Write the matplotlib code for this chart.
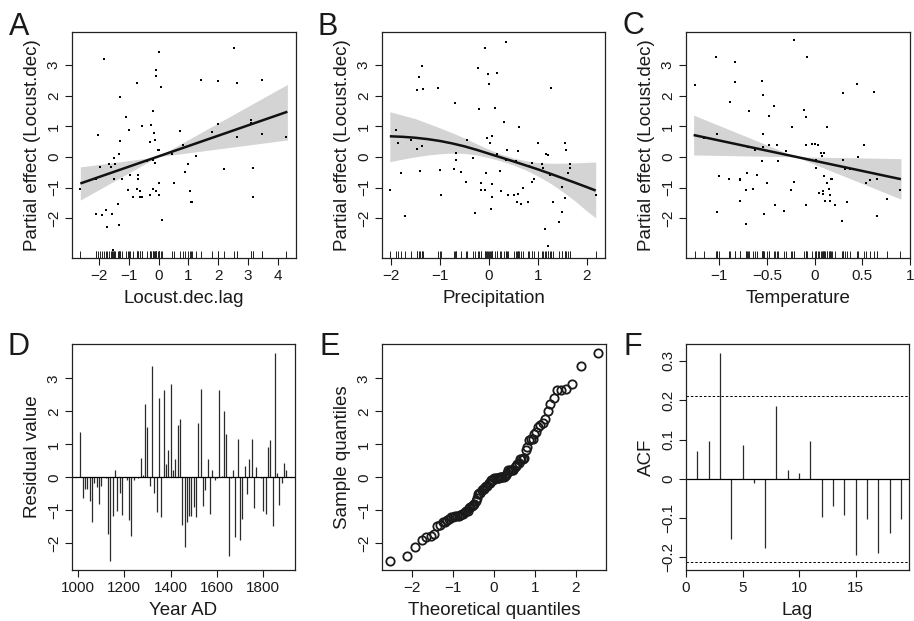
import statistics
import numpy as np
import matplotlib
matplotlib.use("Agg")
import matplotlib.pyplot as plt

plt.rcParams['font.family'] = ['Liberation Sans', 'DejaVu Sans']

# ---- panel A: Locust.dec.lag partial effect
a_x = [-2.64, -2.12, -2.06, -2.10, -1.97, -1.92, -1.85, -1.76, -1.75, -1.69,
       -1.62, -1.58, -1.56, -1.52, -1.52, -1.46, -1.38, -1.35, -1.33, -1.31,
       -1.29, -1.25, -1.11, -1.04, -0.99, -0.98, -0.88, -0.74, -0.73, -0.71,
       -0.69, -0.64, -0.62, -0.57, -0.55, -0.39, -0.31, -0.30, -0.26, -0.21,
       -0.21, -0.18, -0.17, -0.12, -0.11, -0.10, -0.08, -0.08, -0.01, 0.01,
       0.02, 0.02, 0.02, 0.09, 0.10, 0.45, 0.51, 0.73, 0.80, 0.90,
       1.00, 1.04, 1.08, 1.13, 1.24, 1.42, 1.80, 1.98, 2.01, 2.18,
       2.52, 2.62, 2.62, 3.09, 3.12, 3.16, 3.16, 3.46, 3.46, 4.30,
       -1.54]
a_y = [-1.03, -1.84, 0.71, -0.73, -0.31, -1.88, 3.20, -1.71, -2.27, -0.22,
       -0.31, -1.84, -1.84, -0.04, -0.73, -0.24, -1.52, -2.20, 0.11, 0.51,
       1.97, -0.73, 1.30, -1.06, 0.87, -0.57, -1.29, 2.41, -1.04, -0.70,
       -0.57, -1.09, -1.31, -1.29, 1.03, -0.13, 0.48, -1.25, 1.06, 1.52,
       -0.08, -1.04, 0.80, 0.55, -0.19, 2.84, 2.64, -1.09, 0.24, 3.42,
       0.24, -0.85, -1.25, 2.28, -2.04, 0.11, -0.83, 0.84, 0.38, -0.50,
       -0.24, -1.09, -1.45, -1.48, 0.05, 2.51, 0.83, 1.09, 2.48, -0.40,
       3.56, 2.41, 0.64, 1.10, 1.20, -0.34, -1.29, 2.51, 0.74, 0.64,
       -3.02]
a_fit_x = [-2.64, 4.33]
a_fit_y = [-0.86, 1.48]
a_band_x = [-2.64, -0.04, 4.33]
a_band_hi = [-0.32, 0.01, 2.37]
a_band_lo = [-1.40, 0.01, 0.56]

# ---- panel B: Precipitation partial effect
b_x = [-2.03, -1.91, -1.87, -1.81, -1.71, -1.60, -1.48, -1.48, -1.44, -1.41,
       -1.38, -1.38, -1.36, -1.04, -1.00, -0.99, -0.69, -0.71, -0.67, -0.67,
       -0.57, -0.47, -0.45, -0.33, -0.29, -0.22, -0.20, -0.16, -0.16, -0.08,
       -0.08, -0.06, -0.04, -0.02, 0.00, 0.02, 0.04, 0.06, 0.06, 0.06,
       0.12, 0.16, 0.16, 0.22, 0.24, 0.31, 0.35, 0.35, 0.37, 0.39,
       0.51, 0.54, 0.57, 0.59, 0.60, 0.61, 0.65, 0.69, 0.79, 0.81,
       0.87, 0.88, 0.92, 1.00, 1.09, 1.10, 1.14, 1.16, 1.21, 1.21,
       1.25, 1.26, 1.31, 1.43, 1.49, 1.50, 1.55, 1.56, 1.57, 1.61,
       1.65, 1.65, 2.18]
b_y = [-1.07, 0.87, 0.47, -0.51, -1.91, 0.55, 2.18, 0.25, 2.61, -0.44,
       2.96, 0.35, 2.21, 2.27, -0.41, -1.25, 1.78, -0.40, 0.14, -0.08,
       -0.47, -0.80, 0.55, -0.04, -1.81, 2.92, 1.56, -0.86, -1.07, 3.56,
       -1.07, -0.53, 0.61, 2.72, 2.37, 0.47, -1.69, -0.89, 0.70, -1.30,
       1.61, 0.11, 2.74, -0.45, -1.12, 1.16, 3.77, -0.08, 0.22, -1.22,
       -1.22, -0.13, -1.47, -1.19, 0.19, 0.97, -1.52, -1.00, -1.45, -0.29,
       -0.80, -0.19, -0.73, 0.45, -0.21, -0.36, -2.33, 0.09, 0.07, -2.89,
       -0.57, 2.27, -1.48, -2.10, -1.78, -0.97, -1.32, 0.47, 0.22, -0.53,
       -0.37, -0.21, -1.25]
b_curve_x = [-2.03, -1.75, -1.5, -1.25, -1.0, -0.75, -0.5, -0.25, 0.0,
             0.25, 0.5, 0.75, 1.0, 1.25, 1.5, 1.75, 2.0, 2.18]
b_fit_y = [0.68, 0.66, 0.63, 0.585, 0.525, 0.445, 0.35, 0.235, 0.11,
           -0.015, -0.14, -0.27, -0.40, -0.54, -0.685, -0.83, -0.98, -1.09]
b_band_hi = [1.48, 1.36, 1.25, 1.10, 0.95, 0.79, 0.62, 0.43, 0.25,
             0.09, -0.03, -0.12, -0.18, -0.20, -0.20, -0.19, -0.17, -0.16]
b_band_lo = [-0.15, -0.06, 0.01, 0.07, 0.11, 0.13, 0.12, 0.07, -0.02,
             -0.13, -0.26, -0.42, -0.62, -0.85, -1.12, -1.42, -1.76, -1.98]

# ---- panel C: Temperature partial effect
c_x = [-1.26, -1.16, -1.04, -1.03, -1.02, -1.00, -0.90, -0.89, -0.84, -0.84,
       -0.78, -0.78, -0.78, -0.72, -0.72, -0.71, -0.70, -0.69, -0.65, -0.63,
       -0.60, -0.55, -0.55, -0.54, -0.54, -0.54, -0.53, -0.50, -0.48, -0.48,
       -0.43, -0.42, -0.40, -0.38, -0.32, -0.30, -0.25, -0.24, -0.22, -0.22,
       -0.11, -0.09, -0.09, -0.09, -0.08, -0.03, 0.00, 0.01, 0.01, 0.03,
       0.05, 0.07, 0.08, 0.09, 0.09, 0.10, 0.10, 0.11, 0.13, 0.13,
       0.15, 0.16, 0.16, 0.17, 0.18, 0.21, 0.29, 0.30, 0.30, 0.32,
       0.34, 0.37, 0.44, 0.45, 0.52, 0.54, 0.58, 0.62, 0.65, 0.65,
       0.76, 0.90]
c_y = [2.34, 0.62, 3.26, 0.77, -1.80, -0.63, -0.70, 1.79, 3.10, 2.44,
       -0.73, -0.76, -1.42, -2.17, -1.06, -0.53, 0.33, 1.49, -1.03, 0.22,
       -0.57, 2.49, -0.14, 2.02, 0.77, 0.32, -1.84, -0.86, 0.40, 1.33,
       1.68, -1.55, 0.38, -0.14, -1.77, 0.19, -1.07, 0.97, -0.80, 3.82,
       1.53, 1.30, 0.38, -1.55, 3.28, 0.44, 0.44, -0.11, -0.37, 0.41,
       -1.16, 0.15, 0.05, -1.09, -1.19, 0.15, -0.63, -1.44, 0.97, -0.83,
       -1.03, -1.25, -1.42, -0.70, -0.73, -1.55, -2.07, 2.08, -0.11, -0.40,
       -1.45, -0.40, 2.40, -0.01, 0.38, -0.83, -0.76, 2.12, -0.73, -1.91,
       -1.35, -1.06]
c_fit_x = [-1.27, 0.905]
c_fit_y = [0.72, -0.72]
c_band_x = [-1.27, -0.197, 0.905]
c_band_hi = [1.37, 0.011, -0.05]
c_band_lo = [0.07, 0.011, -1.37]

# ---- panel D: residuals by decade
years = list(range(1010, 1901, 10))
resid = [1.36, -0.62, -0.35, -0.35, -0.73, -1.35, -0.17, -0.28, -0.82, -0.26,
         0.02, -0.02, -1.73, -2.55, -1.16, 0.23, -1.02, -0.49, -1.13, 0.01,
         -0.07, -1.29, -1.77, -0.07, 0.02, -0.02, 0.57, 0.06, 2.22, 1.51,
         -0.27, 3.38, -0.48, -1.05, 2.40, -1.19, 2.65, 0.39, 0.84, 2.83,
         0.21, 0.55, 1.57, 1.77, -1.44, -2.10, -1.36, -1.17, -1.17, -0.91,
         -1.20, 1.64, 2.69, -0.87, -0.40, 0.54, -1.10, 0.21, -0.07, -0.02,
         2.65, 0.03, 2.01, 1.30, -2.38, -0.03, 0.21, -1.82, 1.16, -1.89,
         -1.26, 0.33, -0.50, 0.54, 1.17, -0.93, 0.32, 0.02, -0.01, -1.02,
         -1.11, 0.93, 1.12, -1.49, 3.78, 0.13, -0.83, -0.18, 0.44, 0.23]

# ---- panel F: ACF of residuals
lags = list(range(1, 20))
acf = [0.071, 0.097, 0.321, -0.153, 0.085, -0.011, -0.176, 0.184, 0.022, 0.016,
       0.097, -0.096, -0.070, -0.092, -0.193, -0.103, -0.188, -0.138, -0.103]
acf_ci = 0.211

W, H = 914, 621
fig = plt.figure(figsize=(W / 100, H / 100), dpi=100)

TXT = '#1a1a1a'
BAND = '#d4d4d4'


def px_axes(l, t, r, b):
    return fig.add_axes([l / W, 1 - b / H, (r - l) / W, (b - t) / H])


def style(ax, xt, xl, yt, yl, xlabel, ylabel):
    ax.set_xticks(xt)
    ax.set_xticklabels(xl)
    ax.set_yticks(yt)
    ax.set_yticklabels(yl)
    ax.tick_params(length=5, width=0.8, pad=3, labelsize=11,
                   colors=TXT, direction='out')
    ax.tick_params(axis='y', labelrotation=90)
    for lab in ax.get_yticklabels():
        lab.set_va('center')
    for s in ax.spines.values():
        s.set_linewidth(0.9)
        s.set_color('#222222')
    ax.set_xlabel(xlabel, fontsize=13.5, color=TXT, labelpad=5)
    ax.set_ylabel(ylabel, fontsize=13.5, color=TXT, labelpad=4)


def m(v):
    s = ('%g' % v)
    return s.replace('-', '\u2212')


def letter(x, y, s):
    fig.text(x / W, 1 - y / H, s, fontsize=22, color=TXT, va='baseline', ha='left')


ylim_pe = (-3.29, 4.08)
pe_ticks = [-2, -1, 0, 1, 2, 3]


def gam_panel(ax, x, y, fx, fy, bx, bhi, blo, xlim, xt, xlabel):
    ax.fill_between(bx, blo, bhi, color=BAND, lw=0, zorder=1)
    ax.plot(x, y, 's', ms=2.0, color='black', mew=0, zorder=3)
    ax.plot(fx, fy, '-', color='#111111', lw=1.8, zorder=4, solid_capstyle='butt')
    ax.vlines(x, 0, 0.03, transform=ax.get_xaxis_transform(),
              color='#222222', lw=0.7, zorder=2)
    ax.set_xlim(*xlim)
    ax.set_ylim(*ylim_pe)
    style(ax, xt, [m(v) for v in xt], pe_ticks, [m(v) for v in pe_ticks],
          xlabel, 'Partial effect (Locust.dec)')


axA = px_axes(72, 32, 296, 258)
gam_panel(axA, a_x, a_y, a_fit_x, a_fit_y, a_band_x, a_band_hi, a_band_lo,
          (-2.92, 4.62), [-2, -1, 0, 1, 2, 3, 4], 'Locust.dec.lag')

axB = px_axes(382, 32, 605, 258)
gam_panel(axB, b_x, b_y, b_curve_x, b_fit_y, b_curve_x, b_band_hi, b_band_lo,
          (-2.19, 2.37), [-2, -1, 0, 1, 2], 'Precipitation')

axC = px_axes(686, 32, 910, 258)
gam_panel(axC, c_x, c_y, c_fit_x, c_fit_y, c_band_x, c_band_hi, c_band_lo,
          (-1.35, 0.99), [-1, -0.5, 0, 0.5, 1], 'Temperature')

# D: residual series
axD = px_axes(72, 344, 295, 570)
axD.vlines(years, 0, resid, color='#2a2a2a', lw=0.9)
axD.axhline(0, color='black', lw=0.9)
axD.set_xlim(974, 1937)
axD.set_ylim(-2.81, 4.04)
style(axD, [1000, 1200, 1400, 1600, 1800], ['1000', '1200', '1400', '1600', '1800'],
      pe_ticks, [m(v) for v in pe_ticks], 'Year AD', 'Residual value')

# E: normal QQ plot of the residuals
n = len(resid)
sample_q = sorted(resid)
theo_q = [statistics.NormalDist().inv_cdf((i + 0.5) / n) for i in range(n)]
axE = px_axes(382, 344, 606, 570)
axE.plot(theo_q, sample_q, 'o', ms=6, mfc='none', mec='#1a1a1a', mew=1.3)
axE.set_xlim(-2.73, 2.74)
axE.set_ylim(-2.81, 4.04)
style(axE, [-2, -1, 0, 1, 2], [m(v) for v in [-2, -1, 0, 1, 2]],
      pe_ticks, [m(v) for v in pe_ticks], 'Theoretical quantiles', 'Sample quantiles')

# F: ACF
axF = px_axes(686, 344, 909, 570)
axF.vlines(lags, 0, acf, color='#2a2a2a', lw=0.9)
axF.axhline(0, color='black', lw=0.9)
axF.axhline(acf_ci, color='black', lw=0.7, ls=(0, (2.5, 2)))
axF.axhline(-acf_ci, color='black', lw=0.7, ls=(0, (2.5, 2)))
axF.set_xlim(0.28, 19.72)
axF.set_ylim(-0.232, 0.343)
f_yt = [-0.2, -0.1, 0, 0.1, 0.2, 0.3]
style(axF, [0, 5, 10, 15], ['0', '5', '10', '15'],
      f_yt, [m(v) for v in f_yt], 'Lag', 'ACF')

letter(9, 35, 'A')
letter(318, 35, 'B')
letter(622, 34, 'C')
letter(8, 355, 'D')
letter(320, 355, 'E')
letter(623, 355, 'F')

fig.savefig('out.png', dpi=100)
